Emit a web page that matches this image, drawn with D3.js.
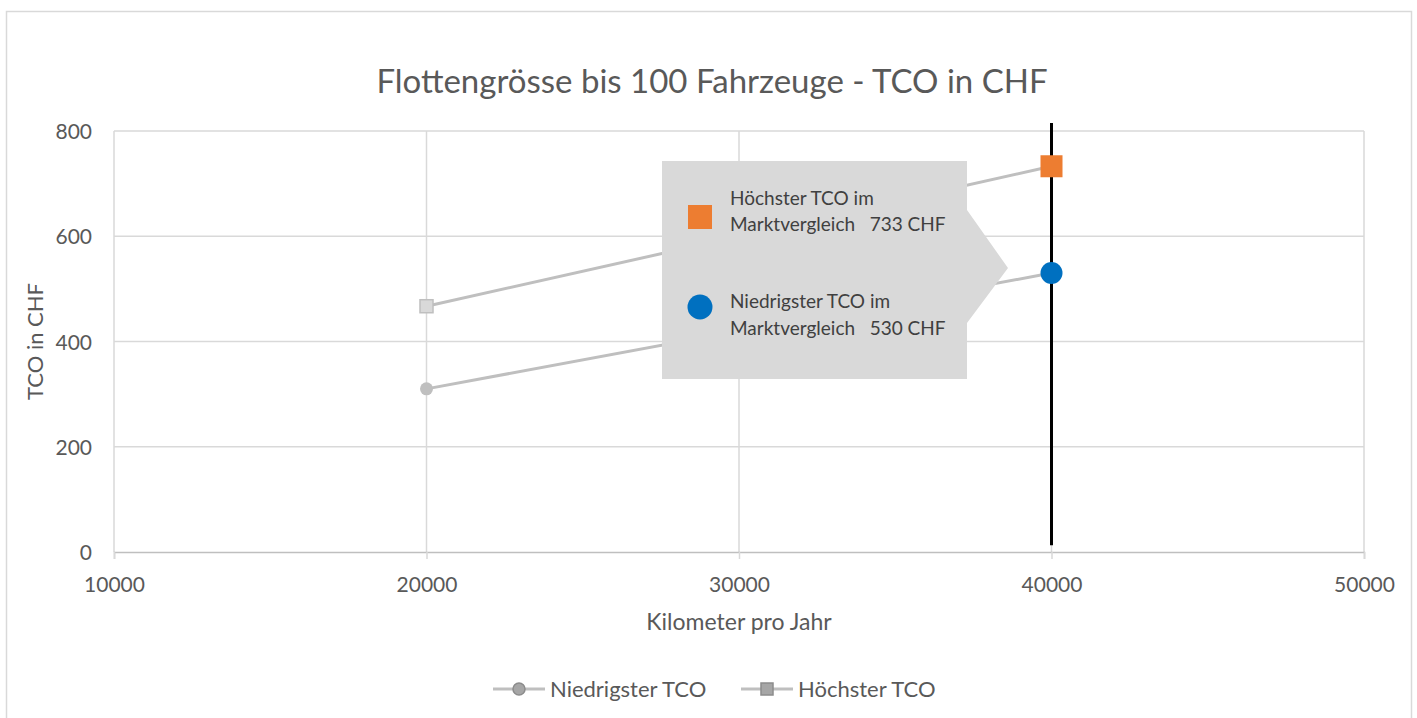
<!DOCTYPE html>
<html>
<head>
<meta charset="utf-8">
<script src="https://cdn.jsdelivr.net/npm/d3@7"></script>
<style>
  body { margin: 0; background: #fff; }
  svg { display: block; }
  svg text { font-family: Lato, "Open Sans", sans-serif; }
</style>
</head>
<body>
<div id="chart"></div>
<script>
// Chart data
const kmValues = [20000, 40000];
const lowTco = [310, 530];
const highTco = [467, 733];
const xTicks = [10000, 20000, 30000, 40000, 50000];
const yTicks = [0, 200, 400, 600, 800];
const seriesNames = ['Niedrigster TCO', 'Höchster TCO'];
const markerKm = 40000;
const markerRange = [13, 815];
const calloutLines = [
    ['Höchster TCO im', 'Marktvergleich   733 CHF'],
    ['Niedrigster TCO im', 'Marktvergleich   530 CHF']
];

const W = 1417, H = 718;
const margin = { top: 131, left: 114, right: 53, bottom: 166 };
const innerW = W - margin.left - margin.right;
const innerH = H - margin.top - margin.bottom;

const GRID = '#d9d9d9';
const TEXT = '#595959';
const LINE = '#bfbfbf';
const ORANGE = '#ed7d31';
const BLUE = '#0070c0';

const svg = d3.select('#chart').append('svg')
    .attr('width', W)
    .attr('height', H);

// outer chart frame
svg.append('rect')
    .attr('x', 6.5).attr('y', 11.5)
    .attr('width', 1405).attr('height', 720)
    .attr('fill', '#fff')
    .attr('stroke', GRID)
    .attr('stroke-width', 1.5);

const x = d3.scaleLinear().domain([10000, 50000]).range([0, innerW]);
const y = d3.scaleLinear().domain([0, 800]).range([innerH, 0]);

const g = svg.append('g').attr('transform', `translate(${margin.left},${margin.top})`);

// gridlines
g.append('g')
    .selectAll('line')
    .data(yTicks.filter(d => d > 0))
    .enter()
    .append('line')
    .attr('x1', 0).attr('x2', innerW)
    .attr('y1', d => y(d)).attr('y2', d => y(d))
    .attr('stroke', GRID).attr('stroke-width', 1.5);

g.append('g')
    .selectAll('line')
    .data(xTicks)
    .enter()
    .append('line')
    .attr('x1', d => x(d)).attr('x2', d => x(d))
    .attr('y1', 0).attr('y2', innerH)
    .attr('stroke', GRID).attr('stroke-width', 1.5);

// x axis
const xAxis = g.append('g')
    .attr('transform', `translate(0,${innerH})`)
    .call(d3.axisBottom(x).tickValues(xTicks).tickFormat(d3.format('d')).tickSize(7));
xAxis.attr('font-family', null).attr('font-size', null);
xAxis.select('.domain').attr('stroke', LINE).attr('stroke-width', 1.5);
xAxis.selectAll('.tick line').attr('stroke', GRID).attr('stroke-width', 1.5);
xAxis.selectAll('.tick text')
    .attr('fill', TEXT)
    .attr('y', 40)
    .attr('dy', 0)
    .style('font-size', '21px');

// y axis (labels only)
const yAxis = g.append('g')
    .call(d3.axisLeft(y).tickValues(yTicks).tickSize(0).tickPadding(22));
yAxis.attr('font-family', null).attr('font-size', null);
yAxis.select('.domain').remove();
yAxis.selectAll('.tick text')
    .attr('fill', TEXT)
    .attr('dy', '0.36em')
    .style('font-size', '21px');

// series lines
const line = d3.line()
    .x((d, i) => x(kmValues[i]))
    .y(d => y(d));

[lowTco, highTco].forEach(vals => {
    g.append('path')
        .datum(vals)
        .attr('d', line)
        .attr('fill', 'none')
        .attr('stroke', LINE)
        .attr('stroke-width', 3);
});

// vertical marker line
g.append('line')
    .attr('x1', x(markerKm)).attr('x2', x(markerKm))
    .attr('y1', y(markerRange[1])).attr('y2', y(markerRange[0]))
    .attr('stroke', '#000')
    .attr('stroke-width', 3);

// first-point markers (gray)
g.append('circle')
    .attr('cx', x(kmValues[0])).attr('cy', y(lowTco[0]))
    .attr('r', 6.5)
    .attr('fill', LINE);

g.append('rect')
    .attr('x', x(kmValues[0]) - 6.5).attr('y', y(highTco[0]) - 6.5)
    .attr('width', 13).attr('height', 13)
    .attr('fill', GRID)
    .attr('stroke', LINE)
    .attr('stroke-width', 1.5);

// highlighted points
g.append('circle')
    .attr('cx', x(kmValues[1])).attr('cy', y(lowTco[1]))
    .attr('r', 11)
    .attr('fill', BLUE);

g.append('rect')
    .attr('x', x(kmValues[1]) - 11).attr('y', y(highTco[1]) - 11)
    .attr('width', 22).attr('height', 22)
    .attr('fill', ORANGE);

// callout box
const cb = { x0: 662, x1: 967, y0: 161, y1: 379, tip: 1008, tipY: 268, a0: 210, a1: 323 };
svg.append('path')
    .attr('d', `M${cb.x0},${cb.y0} L${cb.x1},${cb.y0} L${cb.x1},${cb.a0} L${cb.tip},${cb.tipY} L${cb.x1},${cb.a1} L${cb.x1},${cb.y1} L${cb.x0},${cb.y1} Z`)
    .attr('fill', GRID);

svg.append('rect')
    .attr('x', 688).attr('y', 205)
    .attr('width', 24).attr('height', 24)
    .attr('fill', ORANGE);

svg.append('circle')
    .attr('cx', 700).attr('cy', 307)
    .attr('r', 12.5)
    .attr('fill', BLUE);

const calloutY = [[205, 231], [308, 335]];
calloutLines.forEach((lines, i) => {
    lines.forEach((t, j) => {
        svg.append('text')
            .attr('x', 730)
            .attr('y', calloutY[i][j])
            .attr('fill', '#404040')
            .style('font-size', '19px')
            .style('white-space', 'pre')
            .attr('xml:space', 'preserve')
            .text(t);
    });
});

// title
svg.append('text')
    .attr('x', 712)
    .attr('y', 93)
    .attr('text-anchor', 'middle')
    .attr('fill', TEXT)
    .style('font-size', '33px')
    .text('Flottengrösse bis 100 Fahrzeuge - TCO in CHF');

// axis titles
svg.append('text')
    .attr('x', margin.left + innerW / 2)
    .attr('y', 630)
    .attr('text-anchor', 'middle')
    .attr('fill', TEXT)
    .style('font-size', '23px')
    .text('Kilometer pro Jahr');

svg.append('text')
    .attr('transform', `translate(43,${margin.top + innerH / 2}) rotate(-90)`)
    .attr('text-anchor', 'middle')
    .attr('fill', TEXT)
    .style('font-size', '22px')
    .text('TCO in CHF');

// legend
const legend = svg.append('g');
const legendX = [493, 741];
seriesNames.forEach((name, i) => {
    const lx = legendX[i];
    const ly = 689;
    legend.append('line')
        .attr('x1', lx).attr('x2', lx + 52)
        .attr('y1', ly).attr('y2', ly)
        .attr('stroke', LINE)
        .attr('stroke-width', 3);
    if (i === 0) {
        legend.append('circle')
            .attr('cx', lx + 26).attr('cy', ly)
            .attr('r', 6)
            .attr('fill', '#a6a6a6')
            .attr('stroke', '#8c8c8c')
            .attr('stroke-width', 1.5);
    } else {
        legend.append('rect')
            .attr('x', lx + 20).attr('y', ly - 6)
            .attr('width', 12).attr('height', 12)
            .attr('fill', '#a6a6a6')
            .attr('stroke', '#8c8c8c')
            .attr('stroke-width', 1.5);
    }
    legend.append('text')
        .attr('x', lx + 57)
        .attr('y', ly + 8)
        .attr('fill', TEXT)
        .style('font-size', '22px')
        .text(name);
});
</script>
</body>
</html>
